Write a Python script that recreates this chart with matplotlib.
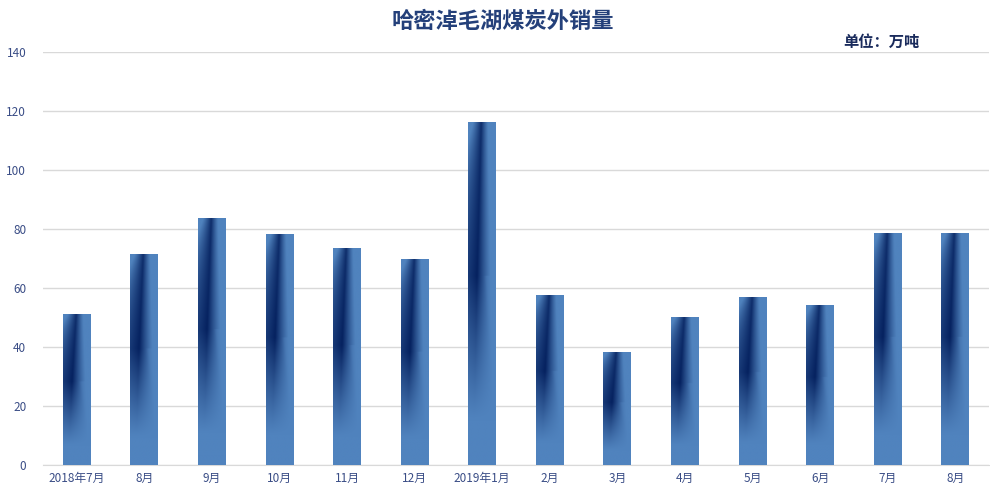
import matplotlib
matplotlib.use("Agg")
import matplotlib.pyplot as plt
import numpy as np

plt.rcParams['font.family'] = ['Noto Sans CJK SC', 'DejaVu Sans']

months = ['2018年7月', '8月', '9月', '10月', '11月', '12月', '2019年1月',
          '2月', '3月', '4月', '5月', '6月', '7月', '8月']
sales = [51.3, 71.6, 83.7, 78.4, 73.7, 69.8, 116.3,
         57.7, 38.4, 50.3, 57.0, 54.2, 78.7, 78.7]
yticks = [0, 20, 40, 60, 80, 100, 120, 140]

light = np.array([80, 131, 190]) / 255
dark = np.array([5, 33, 95]) / 255
text_c = '#3A4D86'

def bar_gradient(n_x=80, n_y=300):
    u = np.linspace(-1, 1, n_x)[None, :]
    v = np.linspace(0, 1, n_y)[:, None]  # 0 = bottom, 1 = top
    mid = 0.55
    t = np.clip((v - mid) / (1 - mid), 0, 1)   # upper part: 0 at mid, 1 at top
    s = np.clip((mid - v) / (mid - 0.13), 0, 1)  # lower part: 0 at mid, 1 near foot

    # centre and spread of the dark band
    c = -0.05 - 0.3 * (1 - t) - 0.2 * s
    wl = 0.6 + 2.6 * (1 - t)
    wr = 0.5 + 0.5 * (1 - t) + 0.5 * s
    d = np.where(u < c, (c - u) / wl, (u - c) / wr)
    h = np.clip(1 - d, 0, 1) ** 1.2

    # lighter wedge on the right of the lower half
    ub = 0.25 + 0.75 * s
    wedge = 1 / (1 + np.exp((u - ub) / 0.06))
    h = np.where(v < mid, h * (0.55 + 0.45 * wedge), h)

    g = np.where(v >= mid, 1 - 0.12 * t, (1 - s) ** 1.1)
    w = (g * h)[..., None]
    img = light * (1 - w) + dark * w
    return img[::-1]

fig = plt.figure(figsize=(9.9, 4.94), dpi=100)
ax = fig.add_axes([0.0434, 0.0587, 0.9556, 0.836])

x = np.arange(len(months))
bars = ax.bar(x, sales, width=0.41, color=light, zorder=2)
grad = bar_gradient()
for b in bars:
    x0, y0 = b.get_x(), b.get_y()
    im = ax.imshow(grad, extent=[x0, x0 + b.get_width(), y0, y0 + b.get_height()],
                   aspect='auto', zorder=3, interpolation='bilinear')
    im.set_clip_path(b)

ax.set_xlim(-0.5, len(months) - 0.5)
ax.set_ylim(0, 140)
ax.set_yticks(yticks)
ax.set_xticks(x)
ax.set_xticklabels(months)
ax.grid(axis='y', color='#D9D9D9', linewidth=1, zorder=0)
ax.set_axisbelow(True)
for s in ['top', 'right', 'left']:
    ax.spines[s].set_visible(False)
ax.spines['bottom'].set_color('#D9D9D9')
ax.tick_params(axis='both', length=0, labelsize=8.5, colors=text_c)
ax.tick_params(axis='y', pad=12)
ax.tick_params(axis='x', pad=5)

fig.text(0.508, 0.958, '哈密淖毛湖煤炭外销量', ha='center', va='center',
         fontsize=16, fontweight='bold', color='#24407A')
fig.text(0.8515, 0.915, '单位：万吨', ha='left', va='center',
         fontsize=11, fontweight='bold', color='#1A2B5C')

fig.savefig('out.png', dpi=100)
